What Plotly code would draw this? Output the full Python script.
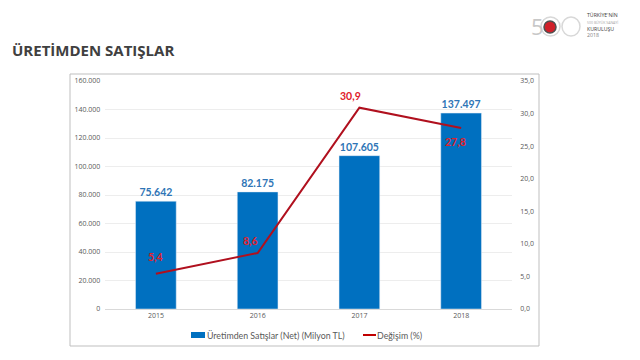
import plotly.graph_objects as go

years = ["2015", "2016", "2017", "2018"]
sales = [75642, 82175, 107605, 137497]
change = [5.4, 8.6, 30.9, 27.8]
left_ticks = [0, 20000, 40000, 60000, 80000, 100000, 120000, 140000, 160000]
right_ticks = [0, 5, 10, 15, 20, 25, 30, 35]
change_label_pos = [(0, 17), (-7, 12), (-9, 12), (-6, -14)]
sales_name = "Üretimden Satışlar (Net) (Milyon TL)"
change_name = "Değişim (%)"


def fmt_thousands(v):
    return "{:,.0f}".format(v).replace(",", ".")


def fmt_dec(v):
    return "{:.1f}".format(v).replace(".", ",")


# page is offset by the default 8px body margin
OFF = 8
W, H = 640 - OFF, 360 - OFF
PL, PR, PT, PB = 105, 512, 81, 309  # plot area in page pixels
L, R, T, B = PL - OFF, W - (PR - OFF), PT - OFF, H - (PB - OFF)
PW, PH = W - L - R, H - T - B


def px(x):
    return (x - OFF - L) / PW


def py(y):
    return (H - B - (y - OFF)) / PH


fig = go.Figure()
fig.add_trace(go.Bar(
    x=years, y=sales, name=sales_name,
    marker_color="#0070C0",
    text=["<b>%s</b>" % fmt_thousands(v) for v in sales], textposition="outside",
    textfont=dict(color="#2E75B6", size=10.5, family="Lato"),
))
fig.add_trace(go.Scatter(
    x=years, y=change, name=change_name, yaxis="y2", mode="lines",
    line=dict(color="#B0101E", width=2),
))

for i, (v, (dx, dy)) in enumerate(zip(change, change_label_pos)):
    fig.add_annotation(x=i, y=v, xref="x", yref="y2", text="<b>%s</b>" % fmt_dec(v),
                       showarrow=False, xshift=dx, yshift=dy, xanchor="center", yanchor="middle",
                       font=dict(color="#E0202A", size=10.5, family="Lato"))

fig.add_annotation(x=px(10), y=py(50), xref="paper", yref="paper", xanchor="left", yanchor="middle",
                   text="<b>ÜRETİMDEN SATIŞLAR</b>", showarrow=False,
                   font=dict(size=15, color="#404040", family="Open Sans"))

# logo approximation
fig.add_annotation(x=px(537), y=py(26), xref="paper", yref="paper", text="5", showarrow=False,
                   xanchor="center", yanchor="middle",
                   font=dict(size=22, color="#C8C8C8", family="Open Sans"))
fig.add_shape(type="circle", xref="paper", yref="paper", x0=px(541), x1=px(560), y0=py(36), y1=py(17),
              line=dict(color="#D8D8D8", width=1.5))
fig.add_shape(type="circle", xref="paper", yref="paper", x0=px(562), x1=px(580), y0=py(36), y1=py(17),
              line=dict(color="#D8D8D8", width=1.5))
fig.add_shape(type="circle", xref="paper", yref="paper", x0=px(544), x1=px(556), y0=py(33), y1=py(21),
              fillcolor="#D0202A", line=dict(color="#505050", width=1.5))
logo_text = ("TÜRKİYE'NİN<br><span style='color:#A8A8A8;font-size:3.5px'>500 BÜYÜK SANAYİ</span>"
             "<br>KURULUŞU<br><span style='color:#808080'>2018</span>")
fig.add_annotation(x=px(586), y=py(25.5), xref="paper", yref="paper", xanchor="left", yanchor="middle",
                   align="left", text=logo_text, showarrow=False, borderpad=0,
                   font=dict(size=5.2, color="#404040", family="Open Sans"))

# chart frame
fig.add_shape(type="rect", xref="paper", yref="paper", x0=px(70), x1=px(539), y0=py(346), y1=py(74),
              line=dict(color="#BFBFBF", width=1), layer="below")

# manual legend
legfont = dict(size=8.8, color="#595959", family="Lato")
fig.add_shape(type="rect", xref="paper", yref="paper", x0=px(191), x1=px(205), y0=py(338), y1=py(332),
              fillcolor="#0070C0", line=dict(width=0))
fig.add_annotation(x=px(205), y=py(335), xref="paper", yref="paper", xanchor="left", yanchor="middle",
                   text=sales_name, showarrow=False, font=legfont)
fig.add_shape(type="line", xref="paper", yref="paper", x0=px(363), x1=px(376), y0=py(335), y1=py(335),
              line=dict(color="#C00000", width=2))
fig.add_annotation(x=px(375), y=py(335), xref="paper", yref="paper", xanchor="left", yanchor="middle",
                   text=change_name, showarrow=False, font=legfont)

tickfont = dict(size=7, color="#595959", family="Open Sans")
fig.update_layout(
    width=W, height=H, margin=dict(l=L, r=R, t=T, b=B),
    paper_bgcolor="white", plot_bgcolor="white",
    bargap=0.6, showlegend=False,
    xaxis=dict(type="category", categoryorder="array", categoryarray=years, range=[-0.5, 3.5],
               tickfont=tickfont, showline=True, linecolor="#D9D9D9", ticks="",
               showgrid=False, automargin=False),
    yaxis=dict(range=[0, 160000], tickvals=left_ticks, ticktext=[fmt_thousands(v) + "  " for v in left_ticks],
               tickfont=tickfont, gridcolor="#EDEDED", zeroline=False, ticks="", automargin=False),
    yaxis2=dict(range=[0, 35], tickvals=right_ticks, ticktext=["    " + fmt_dec(v) for v in right_ticks],
                tickfont=tickfont, overlaying="y", side="right", showgrid=False, zeroline=False,
                ticks="", automargin=False),
)

fig.write_html("out.html")
